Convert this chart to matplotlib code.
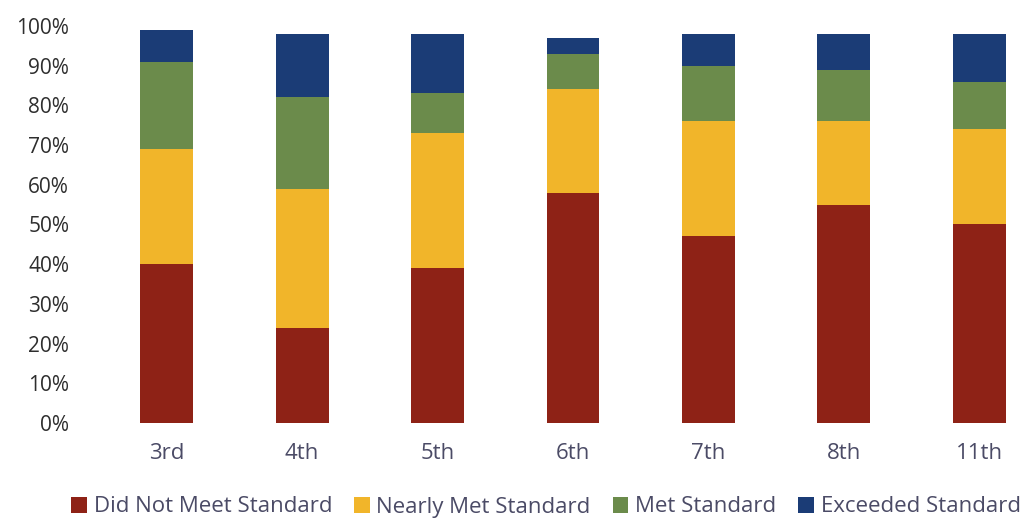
import numpy as np
import matplotlib
matplotlib.use("Agg")
from matplotlib import pyplot as plt
from matplotlib.ticker import PercentFormatter

grades = ["3rd", "4th", "5th", "6th", "7th", "8th", "11th"]
did_not_meet = [40, 24, 39, 58, 47, 55, 50]
nearly_met = [29, 35, 34, 26, 29, 21, 24]
met = [22, 23, 10, 9, 14, 13, 12]
exceeded = [8, 16, 15, 4, 8, 9, 12]

series = [
    ("Did Not Meet Standard", did_not_meet, "#8e2216"),
    ("Nearly Met Standard", nearly_met, "#f1b52a"),
    ("Met Standard", met, "#6b8b4b"),
    ("Exceeded Standard", exceeded, "#1b3c76"),
]

plt.rcParams["font.family"] = ["Open Sans", "DejaVu Sans"]

fig = plt.figure(figsize=(10.24, 5.19), dpi=100)
ax = fig.add_axes([99 / 1024, 0.185, 1 - 99 / 1024, 0.95 - 0.185])

x = np.arange(len(grades))
bottom = np.zeros(len(grades))
for name, vals, color in series:
    ax.bar(x, vals, width=0.39, bottom=bottom, color=color, label=name)
    bottom += np.array(vals)

ax.set_xlim(-0.5, 6.33)
ax.set_ylim(0, 100)
ax.set_yticks(range(0, 101, 10))
ax.yaxis.set_major_formatter(PercentFormatter(decimals=0))
ax.set_xticks(x)
ax.set_xticklabels(grades)

ax.tick_params(axis="y", left=False, pad=18, labelsize=15, labelcolor="#2e2e2e")
ax.tick_params(axis="x", bottom=False, pad=11, labelsize=16, labelcolor="#4b4b66")
ax.set_frame_on(False)

fig.legend(
    loc="center",
    bbox_to_anchor=(546 / 1024, 1 - 507 / 519),
    ncol=4,
    frameon=False,
    fontsize=16,
    handlelength=0.7,
    handleheight=0.7,
    handletextpad=0.3,
    columnspacing=1.0,
    labelcolor="#4b4b66",
)

fig.savefig("out.png", dpi=100)
